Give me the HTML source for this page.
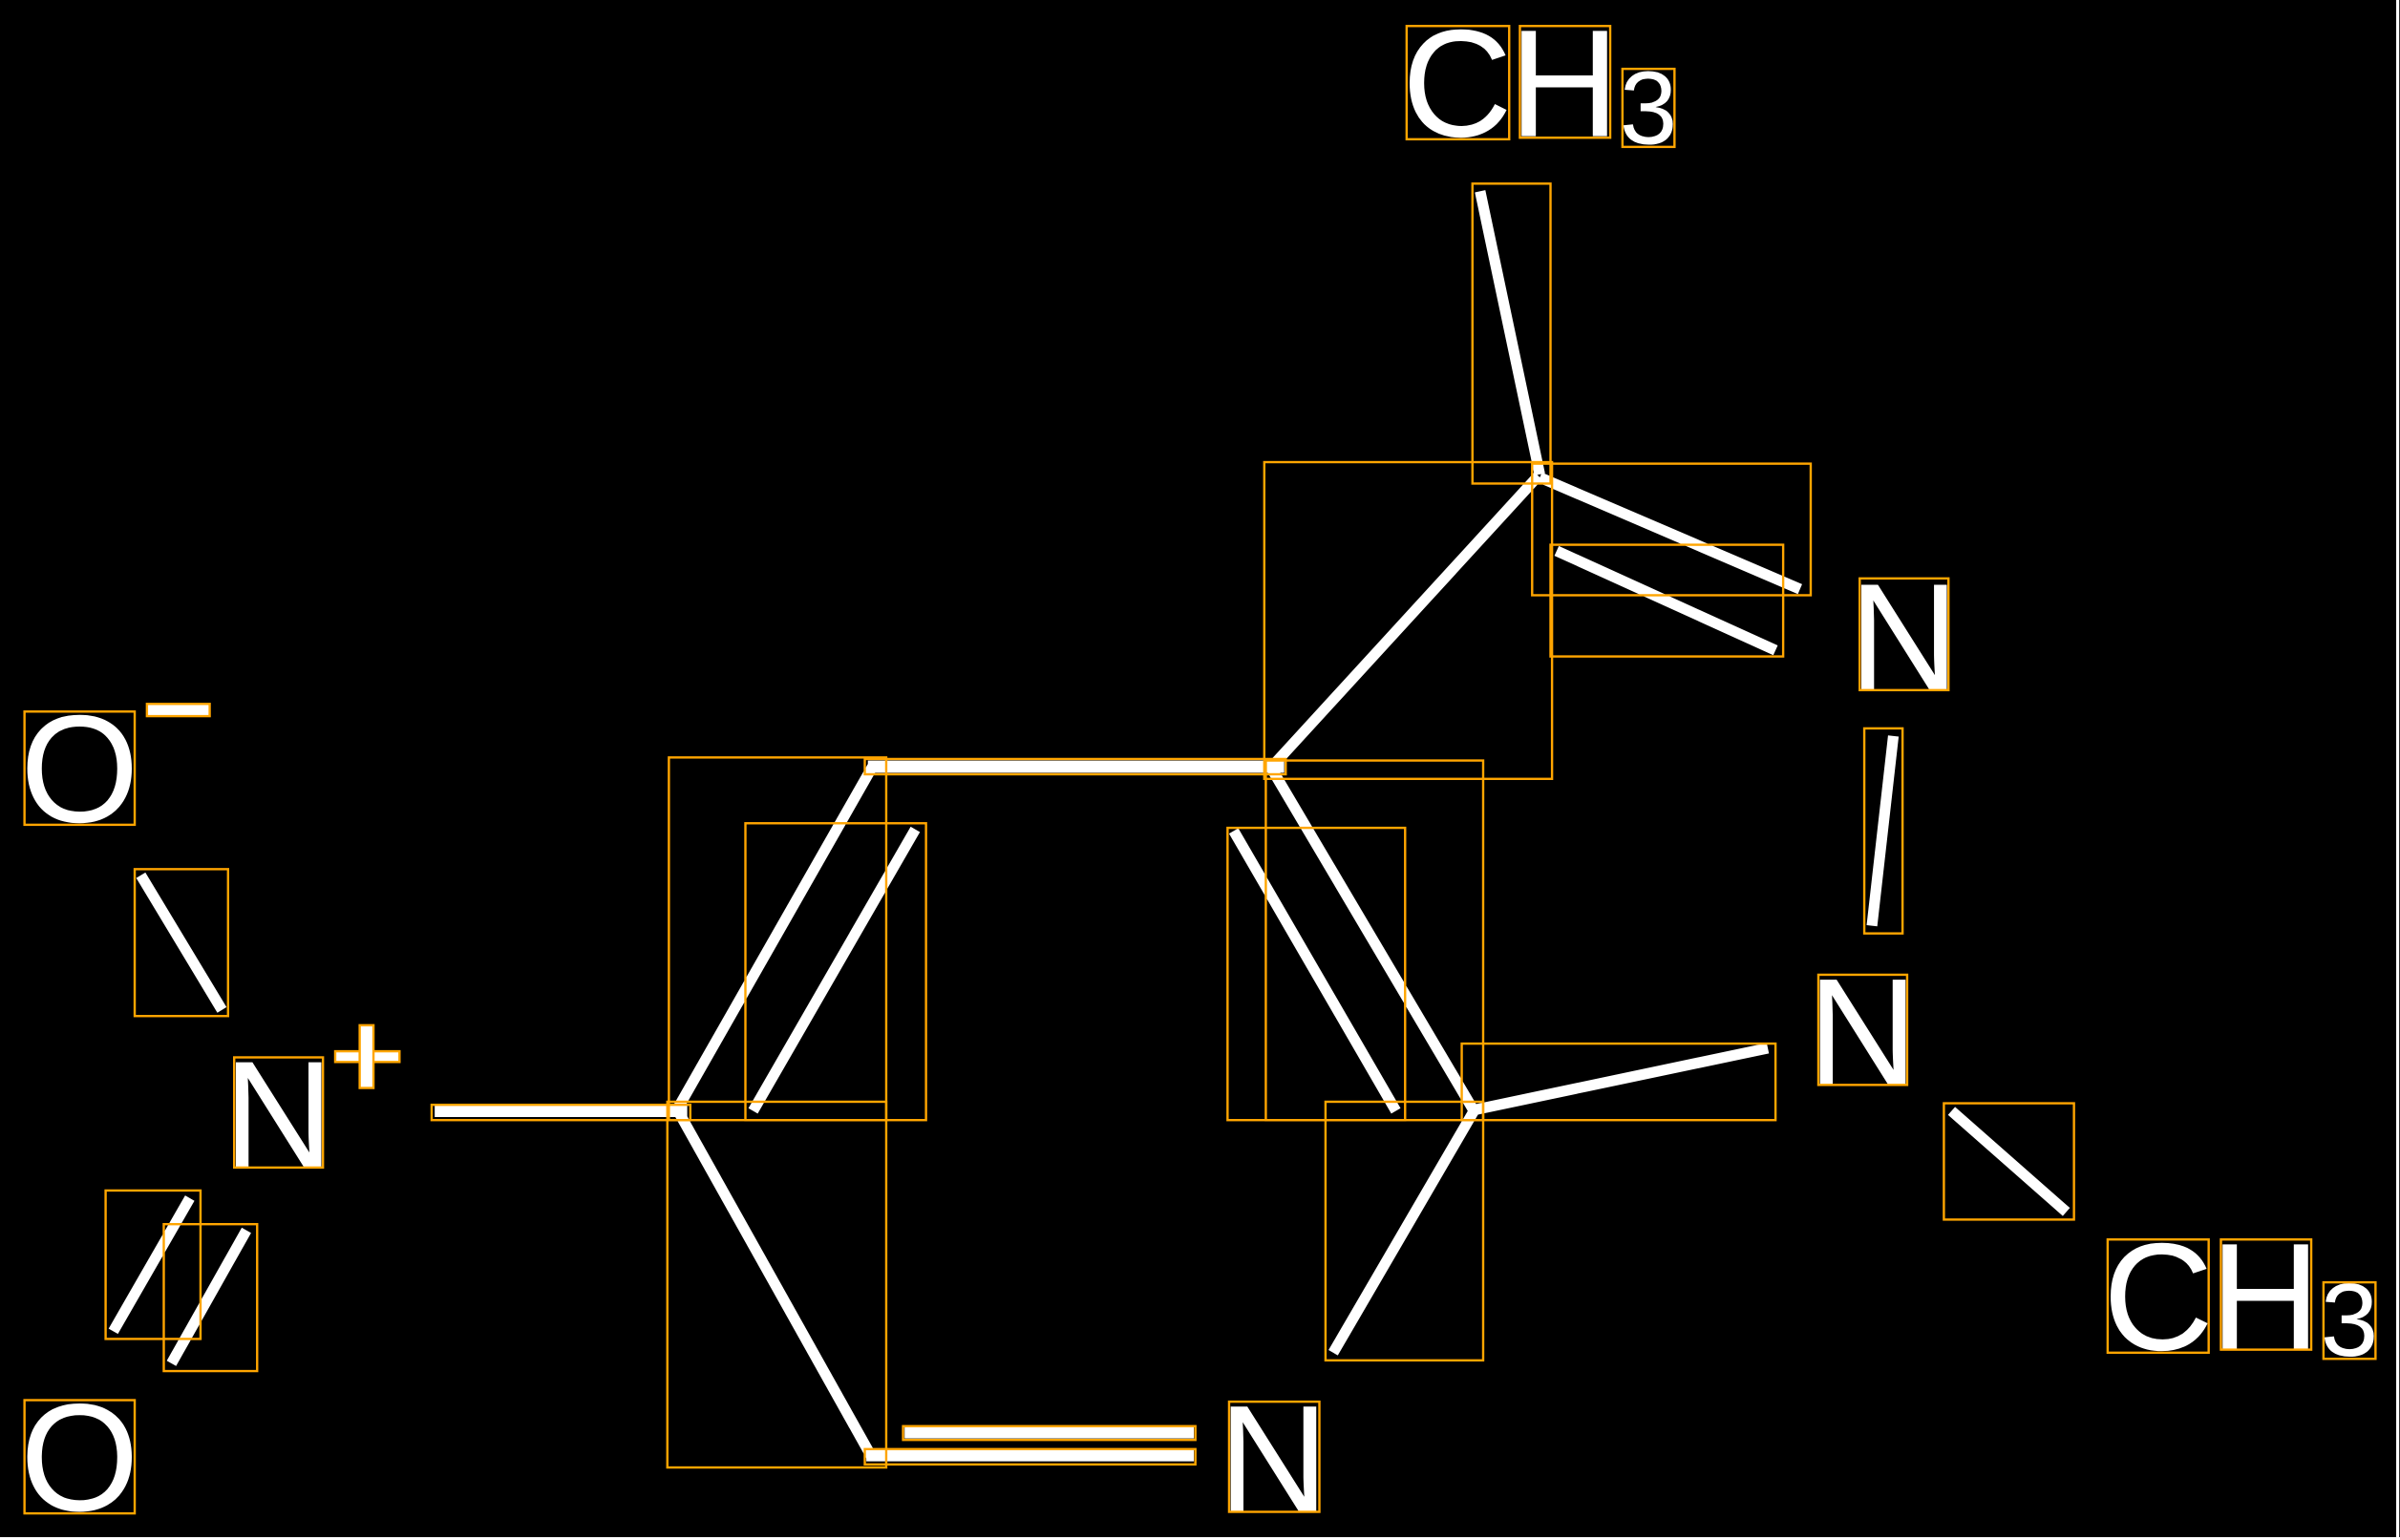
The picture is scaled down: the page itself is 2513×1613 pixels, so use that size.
<!DOCTYPE html>
<html><head><meta charset="utf-8"><style>
html,body{margin:0;padding:0;background:#000;}
svg{display:block;}
</style></head><body>
<svg width="2513" height="1613" viewBox="0 0 1568 1006.4" preserveAspectRatio="none" xmlns="http://www.w3.org/2000/svg">
<rect x="0" y="0" width="1568" height="1006.4" fill="#000"/>
<line x1="1566.5" y1="0" x2="1566.5" y2="1006" stroke="#fff" stroke-width="2"/>
<line x1="0" y1="1005.5" x2="1568" y2="1005.5" stroke="#fff" stroke-width="2"/>
<g stroke="#fff" stroke-width="7" stroke-linecap="butt">
<line x1="967" y1="125" x2="1006" y2="310"/>
<line x1="1005" y1="311" x2="831" y2="501"/>
<line x1="1006" y1="312" x2="1176" y2="385"/>
<line x1="1017" y1="360" x2="1160" y2="425"/>
<line x1="1237" y1="481" x2="1223" y2="605"/>
<line x1="567" y1="501" x2="839" y2="501" stroke-width="8"/>
<line x1="570" y1="501" x2="443" y2="724"/>
<line x1="598" y1="542" x2="492" y2="726"/>
<line x1="830" y1="501" x2="963" y2="726"/>
<line x1="806" y1="543" x2="912" y2="726"/>
<line x1="960" y1="726" x2="1155" y2="685"/>
<line x1="963" y1="726" x2="871" y2="884"/>
<line x1="443" y1="726" x2="570" y2="953"/>
<line x1="566" y1="951" x2="780" y2="951" stroke-width="8"/>
<line x1="591" y1="936" x2="780" y2="936" stroke-width="8"/>
<line x1="284" y1="726" x2="449" y2="726" stroke-width="8"/>
<line x1="92" y1="572" x2="145" y2="660"/>
<line x1="124" y1="783" x2="74" y2="870"/>
<line x1="161" y1="804" x2="112" y2="891"/>
<line x1="1275" y1="726" x2="1350" y2="792"/>
</g>
<g fill="#fff" font-family="Liberation Sans, sans-serif" font-size="100" text-anchor="middle">
<text x="952" y="89">C</text>
<text x="1022" y="89">H</text>
<text x="1077" y="94" font-size="68">3</text>
<text x="1244" y="451">N</text>
<text x="52" y="537">O</text>
<text x="182" y="763">N</text>
<text x="52" y="987">O</text>
<text x="832" y="988">N</text>
<text x="1217" y="709">N</text>
<text x="1410" y="882">C</text>
<text x="1480" y="882">H</text>
<text x="1535" y="886" font-size="68">3</text>
</g>
<g fill="#fff" stroke="#FFA500" stroke-width="1.5">
<rect x="96" y="460" width="41" height="8"/>
<rect x="219" y="687" width="42" height="7"/>
<rect x="235" y="670" width="9" height="41"/>
</g>
<g fill="none" stroke="#FFA500" stroke-width="1.5">
<rect x="919" y="17" width="67" height="74"/>
<rect x="993" y="17" width="59" height="73"/>
<rect x="1060" y="45" width="34" height="51"/>
<rect x="1215" y="378" width="58" height="73"/>
<rect x="16" y="465" width="72" height="74"/>
<rect x="153" y="691" width="58" height="72"/>
<rect x="16" y="915" width="72" height="74"/>
<rect x="803" y="916" width="59" height="72"/>
<rect x="1188" y="637" width="58" height="72"/>
<rect x="1377" y="810" width="66" height="74"/>
<rect x="1451" y="810" width="59" height="72"/>
<rect x="1518" y="838" width="34" height="50"/>
<rect x="962" y="120" width="51" height="196"/>
<rect x="826" y="302" width="188" height="207"/>
<rect x="1001" y="303" width="182" height="86"/>
<rect x="1013" y="356" width="152" height="73"/>
<rect x="1218" y="476" width="25" height="134"/>
<rect x="565" y="496" width="275" height="10"/>
<rect x="437" y="495" width="142" height="237"/>
<rect x="487" y="538" width="118" height="194"/>
<rect x="827" y="497" width="142" height="235"/>
<rect x="802" y="541" width="116" height="191"/>
<rect x="955" y="682" width="205" height="50"/>
<rect x="866" y="720" width="103" height="169"/>
<rect x="436" y="720" width="143" height="239"/>
<rect x="565" y="947" width="216" height="10"/>
<rect x="590" y="932" width="191" height="9"/>
<rect x="282" y="722" width="169" height="10"/>
<rect x="88" y="568" width="61" height="96"/>
<rect x="69" y="778" width="62" height="97"/>
<rect x="107" y="800" width="61" height="96"/>
<rect x="1270" y="721" width="85" height="76"/>
</g>
</svg>
</body></html>
